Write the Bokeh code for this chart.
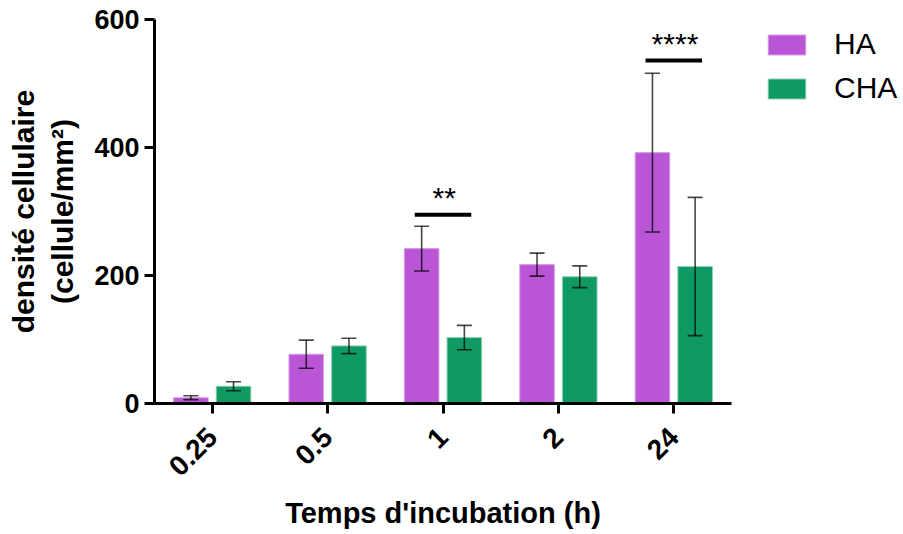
import math
from bokeh.plotting import figure
from bokeh.layouts import row
from bokeh.models import (ColumnDataSource, FactorRange, Range1d, Whisker, TeeHead,
                          Legend, LegendItem, FixedTicker)
from bokeh.transform import dodge
from bokeh.embed import file_html
from bokeh.resources import INLINE
from bokeh.core.properties import value

# ---- data ----
times = ["0.25", "0.5", "1", "2", "24"]
ha_mean = [9, 77, 242, 217, 392]
ha_sd = [3, 22, 35, 18, 124]
cha_mean = [27, 90, 103, 198, 214]
cha_sd = [7, 12, 19, 17, 108]
sig_times = ["1", "24"]
sig_height = [295, 536]
sig_labels = ["**", "****"]
y_ticks = [0, 200, 400, 600]
series_names = ["HA", "CHA"]

FONT = "Liberation Sans"
PURPLE = "#BA56D6"
GREEN = "#0F9A63"
PURPLE_EDGE = "#D7A0E8"
GREEN_EDGE = "#8FD0B0"

TOP, BOTTOM, HEIGHT = 19, 129, 532

src = ColumnDataSource(dict(
    t=times,
    ha=ha_mean,
    ha_up=[m + s for m, s in zip(ha_mean, ha_sd)],
    ha_lo=[m - s for m, s in zip(ha_mean, ha_sd)],
    cha=cha_mean,
    cha_up=[m + s for m, s in zip(cha_mean, cha_sd)],
    cha_lo=[m - s for m, s in zip(cha_mean, cha_sd)],
))
sig = ColumnDataSource(dict(t=sig_times, y=sig_height, lab=sig_labels))

p = figure(x_range=FactorRange(factors=times, range_padding=0),
           y_range=Range1d(0, 600),
           width=737, height=HEIGHT,
           output_backend="svg", toolbar_location=None,
           min_border_left=154, min_border_right=6,
           min_border_top=TOP, min_border_bottom=BOTTOM)
p.outline_line_color = None
p.xgrid.grid_line_color = None
p.ygrid.grid_line_color = None
p.background_fill_color = "white"
p.border_fill_color = "white"

off = 0.185
bw = 0.30
ha_r = p.vbar(x=dodge("t", -off, range=p.x_range), top="ha", width=bw, source=src,
              fill_color=PURPLE, line_color=PURPLE_EDGE, line_width=1)
cha_r = p.vbar(x=dodge("t", off, range=p.x_range), top="cha", width=bw, source=src,
               fill_color=GREEN, line_color=GREEN_EDGE, line_width=1)

for base, up, lo in [(dodge("t", -off, range=p.x_range), "ha_up", "ha_lo"),
                     (dodge("t", off, range=p.x_range), "cha_up", "cha_lo")]:
    w = Whisker(source=src, base=base, upper=up, lower=lo, level="annotation",
                line_color="black", line_alpha=0.72, line_width=1.6,
                upper_head=TeeHead(size=15, line_color="black", line_alpha=0.72, line_width=1.6),
                lower_head=TeeHead(size=15, line_color="black", line_alpha=0.72, line_width=1.6))
    p.add_layout(w)

# significance bars
p.segment(x0=dodge("t", -0.245, range=p.x_range), x1=dodge("t", 0.245, range=p.x_range),
          y0="y", y1="y", source=sig, line_color="black", line_width=4)
p.text(x=dodge("t", 0.01, range=p.x_range), y="y", text="lab", source=sig,
       text_font=value(FONT), text_font_size="30px", text_align="center",
       text_baseline="alphabetic", y_offset=-17, text_color="black")

# axes
xa = p.xaxis[0]
xa.axis_label = "Temps d'incubation (h)"
xa.axis_label_text_font = FONT
xa.axis_label_text_font_style = "bold"
xa.axis_label_text_font_size = "29px"
xa.axis_label_text_color = "black"
xa.axis_label_standoff = 10
xa.major_label_text_font = FONT
xa.major_label_text_font_style = "bold"
xa.major_label_text_font_size = "28px"
xa.major_label_text_color = "black"
xa.major_label_orientation = math.pi / 4
xa.major_label_standoff = 19
xa.axis_line_width = 3
xa.axis_line_color = "black"
xa.major_tick_line_width = 3
xa.major_tick_line_color = "black"
xa.major_tick_out = 10
xa.major_tick_in = 0

ya = p.yaxis[0]
ya.ticker = FixedTicker(ticks=y_ticks)
ya.minor_tick_line_color = None
ya.axis_label = "densité cellulaire\n(cellule/mm²)"
ya.axis_label_text_font = FONT
ya.axis_label_text_font_style = "bold"
ya.axis_label_text_font_size = "30px"
ya.axis_label_text_color = "black"
ya.axis_label_standoff = 12
ya.major_label_text_font = FONT
ya.major_label_text_font_style = "bold"
ya.major_label_text_font_size = "27px"
ya.major_label_text_color = "black"
ya.major_label_standoff = 5
ya.axis_line_width = 3
ya.axis_line_color = "black"
ya.major_tick_line_width = 3
ya.major_tick_line_color = "black"
ya.major_tick_out = 10
ya.major_tick_in = 0

# legend panel (separate figure so that the key can sit right of the plot frame);
# its key renderers share the data but are hidden, only their legend swatches show
lg = figure(width=164, height=HEIGHT, output_backend="svg", toolbar_location=None,
            x_range=FactorRange(factors=times), y_range=Range1d(0, 600),
            x_axis_location=None, y_axis_location=None,
            min_border_left=0, min_border_top=TOP, min_border_right=0,
            min_border_bottom=BOTTOM)
lg.outline_line_color = None
lg.xgrid.grid_line_color = None
lg.ygrid.grid_line_color = None
lg.background_fill_color = "white"
lg.border_fill_color = "white"
ha_key = lg.vbar(x="t", top="ha", width=0.3, source=src, visible=False,
                 fill_color=PURPLE, line_color=PURPLE_EDGE, line_width=1)
cha_key = lg.vbar(x="t", top="cha", width=0.3, source=src, visible=False,
                  fill_color=GREEN, line_color=GREEN_EDGE, line_width=1)
legend = Legend(items=[LegendItem(label=series_names[0], renderers=[ha_key]),
                       LegendItem(label=series_names[1], renderers=[cha_key])],
                location=(26, 298), orientation="vertical",
                glyph_width=47, glyph_height=25, spacing=10,
                label_standoff=24, padding=0, margin=0,
                label_text_font=FONT, label_text_font_size="30px",
                label_text_color="black",
                border_line_color=None, background_fill_alpha=0)
lg.add_layout(legend, "center")

layout = row(p, lg)
open("out.html", "w").write(file_html(layout, INLINE))
